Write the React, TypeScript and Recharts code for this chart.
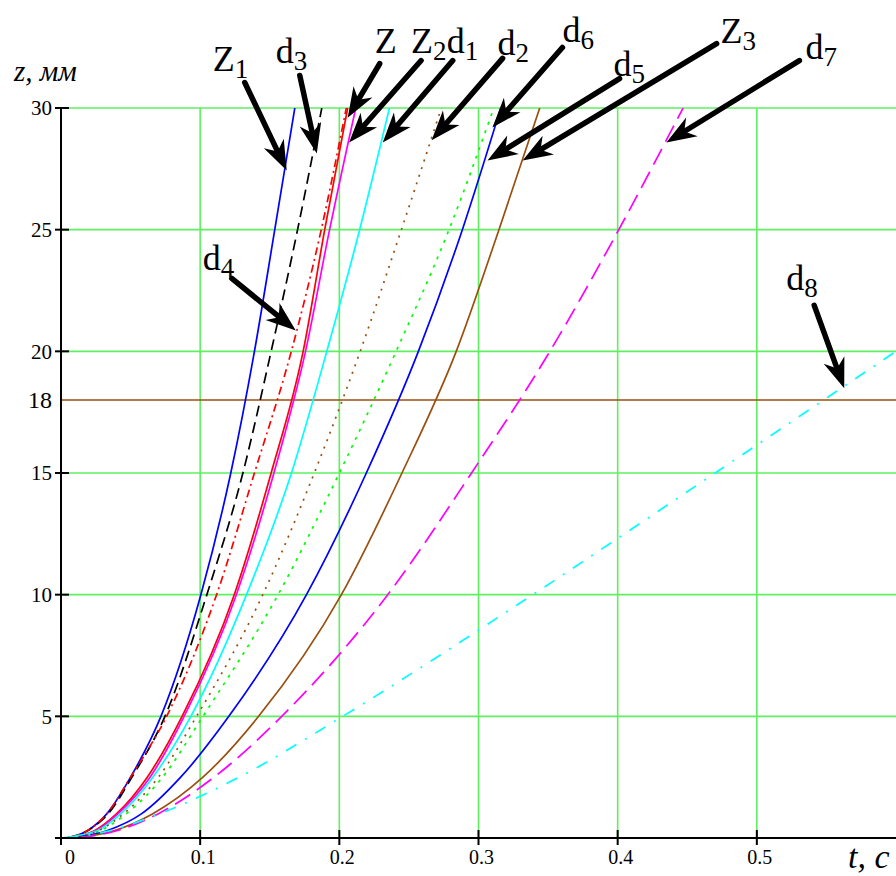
import React from 'react';
import { LineChart, Line, XAxis, YAxis, ReferenceLine, ReferenceDot } from 'recharts';

// z levels (mm) at which the t-values (s) of each curve were read
const zLevels = [0, 0.3, 1, 2.5, 5, 10, 15, 20, 25, 30];
const tZ1 = [0.004, 0.019, 0.033, 0.05, 0.0718, 0.1005, 0.122, 0.139, 0.1536, 0.168];
const tD3 = [0.004, 0.019, 0.034, 0.051, 0.0747, 0.1048, 0.1307, 0.151, 0.17, 0.1874];
const tD4 = [0.004, 0.019, 0.033, 0.05, 0.0759, 0.1118, 0.139, 0.1655, 0.187, 0.205];
const tZ = [0.004, 0.024, 0.04, 0.062, 0.087, 0.1245, 0.151, 0.174, 0.1895, 0.206];
const tZ2 = [0.004, 0.025, 0.041, 0.064, 0.0885, 0.126, 0.153, 0.1757, 0.193, 0.2118];
const tD1 = [0.0, 0.026, 0.043, 0.066, 0.0933, 0.1333, 0.1656, 0.191, 0.2146, 0.236];
const tD2 = [0.006, 0.027, 0.045, 0.07, 0.0974, 0.145, 0.182, 0.215, 0.2446, 0.2733];
const tD6 = [0.006, 0.028, 0.047, 0.073, 0.102, 0.156, 0.2, 0.2408, 0.2788, 0.311];
const tD5 = [0.008, 0.033, 0.058, 0.086, 0.1206, 0.1764, 0.2194, 0.2568, 0.2884, 0.316];
const tZ3 = [0.01, 0.038, 0.066, 0.102, 0.142, 0.2015, 0.245, 0.284, 0.3147, 0.344];
const tD7 = [0.012, 0.04, 0.07, 0.11, 0.1586, 0.2348, 0.295, 0.3513, 0.4008, 0.447];
const zLevelsD8 = [0, 0.3, 1, 2.5, 5, 10, 15, 20];
const tD8 = [0.004, 0.035, 0.071, 0.128, 0.2024, 0.339, 0.47, 0.6];

const xTicks = [0, 0.1, 0.2, 0.3, 0.4, 0.5, 0.6];
const yTicks = [0, 5, 10, 15, 18, 20, 25, 30];
const gridT = [0.1, 0.2, 0.3, 0.4, 0.5];
const gridZ = [5, 10, 15, 20, 25, 30];
const limitZ = 18;

// annotation labels and the curve points their arrows point at
const annMain = ['Z', 'd', 'Z', 'Z', 'd', 'd', 'd', 'd', 'Z', 'd', 'd', 'd'];
const annSub = ['1', '3', '', '2', '1', '2', '6', '5', '3', '7', '4', '8'];
const annT = [0.1622, 0.1838, 0.206, 0.207, 0.2312, 0.2663, 0.31, 0.3065, 0.3317, 0.435, 0.1687, 0.5628];
const annZ = [27.43, 28.13, 29.6, 28.58, 28.58, 28.67, 29.2, 27.84, 27.84, 28.58, 20.86, 18.48];

// layout (pixel offsets from arrow tip): arrow start and label position
const annLayout = [
  { dx: -42, dy: -88, lx: -74, ly: -100 },
  { dx: -17, dy: -78, lx: -41, ly: -91 },
  { dx: 32, dy: -54, lx: 27, ly: -65 },
  { dx: 72, dy: -82, lx: 62, ly: -90 },
  { dx: 70, dy: -82, lx: 64, ly: -90 },
  { dx: 71, dy: -82, lx: 66, ly: -85 },
  { dx: 70, dy: -80, lx: 70, ly: -85 },
  { dx: 132, dy: -82, lx: 126, ly: -85 },
  { dx: 194, dy: -117, lx: 198, ly: -118 },
  { dx: 133, dy: -82, lx: 139, ly: -84 },
  { dx: -64, dy: -52, lx: -93, ly: -60 },
  { dx: -30, dy: -83, lx: -58, ly: -98 },
];

const toPoints = (ts: number[], zs: number[] = zLevels) => ts.map((t, i) => ({ t, z: zs[i] }));

const BROWN = '#9a4f0e';
const GRID = '#5ef05e';
const SERIF = '"Liberation Serif", "Times New Roman", serif';

const series = [
  { key: 'Z1', data: toPoints(tZ1), color: '#0000ff', dash: undefined },
  { key: 'd3', data: toPoints(tD3), color: '#000000', dash: '11 6' },
  { key: 'd4', data: toPoints(tD4), color: '#ff0000', dash: '8 4 2 4' },
  { key: 'Z', data: toPoints(tZ), color: '#ff0000', dash: undefined },
  { key: 'Z2', data: toPoints(tZ2), color: '#ff00ff', dash: undefined },
  { key: 'd1', data: toPoints(tD1), color: '#00ffff', dash: undefined },
  { key: 'd2', data: toPoints(tD2), color: BROWN, dash: '2 6' },
  { key: 'd6', data: toPoints(tD6), color: '#00ff00', dash: '3 6' },
  { key: 'd5', data: toPoints(tD5), color: '#0000ff', dash: undefined },
  { key: 'Z3', data: toPoints(tZ3), color: BROWN, dash: undefined },
  { key: 'd7', data: toPoints(tD7), color: '#ff00ff', dash: '18 8' },
  { key: 'd8', data: toPoints(tD8, zLevelsD8), color: '#00ffff', dash: '12 10 2 10' },
];

function Arrow(props: any) {
  const { cx, cy, dx, dy, lx, ly, main, sub } = props;
  if (cx == null || cy == null) return null;
  const sx = cx + dx;
  const sy = cy + dy;
  const len = Math.hypot(dx, dy);
  const ux = -dx / len;
  const uy = -dy / len;
  const nx = -uy;
  const ny = ux;
  const L = 30;
  const W = 11;
  const N = 9;
  const bx = cx - ux * L;
  const by = cy - uy * L;
  const p1 = [bx + nx * W, by + ny * W];
  const p2 = [cx - ux * (L - N), cy - uy * (L - N)];
  const p3 = [bx - nx * W, by - ny * W];
  return (
    <g>
      <line x1={sx} y1={sy} x2={p2[0]} y2={p2[1]} stroke="#000" strokeWidth={5.5} strokeLinecap="round" />
      <polygon points={`${cx},${cy} ${p1[0]},${p1[1]} ${p2[0]},${p2[1]} ${p3[0]},${p3[1]}`} fill="#000" />
      <text x={cx + lx} y={cy + ly} fontFamily={SERIF} fontSize={36} fill="#000">
        {main}
        {sub ? (
          <tspan fontSize={27} dy={7}>
            {sub}
          </tspan>
        ) : null}
      </text>
    </g>
  );
}

function YTick(props: any) {
  const { x, y, payload } = props;
  const v = payload.value;
  return (
    <g>
      {v !== 18 && <line x1={x - 6} x2={x + 8} y1={y} y2={y} stroke="#000" strokeWidth={2} />}
      {v !== 0 && (
        <text
          x={x - 9}
          y={y}
          dy="0.35em"
          textAnchor="end"
          fontFamily={SERIF}
          fontSize={v === 18 ? 24 : 21}
          fill="#000"
        >
          {v}
        </text>
      )}
    </g>
  );
}

function XTick(props: any) {
  const { x, y, payload } = props;
  const v = payload.value;
  if (v === 0.6) {
    return (
      <text x={x - 48} y={y + 30} fontFamily={SERIF} fontStyle="italic" fontSize={34} fill="#000">
        t, c
      </text>
    );
  }
  return (
    <g>
      <line x1={x} x2={x} y1={y - 8} y2={y + 7} stroke="#000" strokeWidth={2} />
      <text x={x + (v === 0 ? 9 : 3)} y={y + 26} textAnchor="middle" fontFamily={SERIF} fontSize={20} fill="#000">
        {v}
      </text>
    </g>
  );
}

export default function App() {
  return (
    <div style={{ position: 'absolute', left: 0, top: 0, width: 896, height: 876, background: '#fff' }}>
      <LineChart width={896} height={876} margin={{ top: 108, right: 0, bottom: 0, left: 0 }}>
        <XAxis
          dataKey="t"
          type="number"
          domain={[0, 0.6]}
          ticks={xTicks}
          height={38}
          tickLine={false}
          tickSize={0}
          tickMargin={0}
          tick={<XTick />}
          axisLine={{ stroke: '#000', strokeWidth: 2 }}
          interval={0}
          allowDataOverflow
        />
        <YAxis
          dataKey="z"
          type="number"
          domain={[0, 30]}
          ticks={yTicks}
          width={61}
          tickLine={false}
          tickSize={0}
          tickMargin={0}
          tick={<YTick />}
          axisLine={{ stroke: '#000', strokeWidth: 2 }}
          interval={0}
          allowDataOverflow
        />
        {gridT.map((t) => (
          <ReferenceLine key={'gx' + t} x={t} stroke={GRID} strokeWidth={1.6} />
        ))}
        {gridZ.map((z) => (
          <ReferenceLine key={'gy' + z} y={z} stroke={GRID} strokeWidth={1.6} />
        ))}
        <ReferenceLine y={limitZ} stroke={BROWN} strokeWidth={1.6} />
        {series.map((s) => (
          <Line
            key={s.key}
            data={s.data}
            dataKey="z"
            type="monotone"
            stroke={s.color}
            strokeWidth={1.7}
            strokeDasharray={s.dash}
            dot={false}
            activeDot={false}
            isAnimationActive={false}
          />
        ))}
        {annMain.map((m, i) => (
          <ReferenceDot
            key={'a' + i}
            x={annT[i]}
            y={annZ[i]}
            r={0}
            ifOverflow="visible"
            shape={(p: any) => (
              <Arrow cx={p.cx} cy={p.cy} {...annLayout[i]} main={m} sub={annSub[i]} />
            )}
          />
        ))}
      </LineChart>
      <div
        style={{
          position: 'absolute',
          left: 14,
          top: 53,
          fontFamily: SERIF,
          fontStyle: 'italic',
          fontSize: 29,
          lineHeight: '36px',
          whiteSpace: 'nowrap',
        }}
      >
        z, мм
      </div>
    </div>
  );
}
